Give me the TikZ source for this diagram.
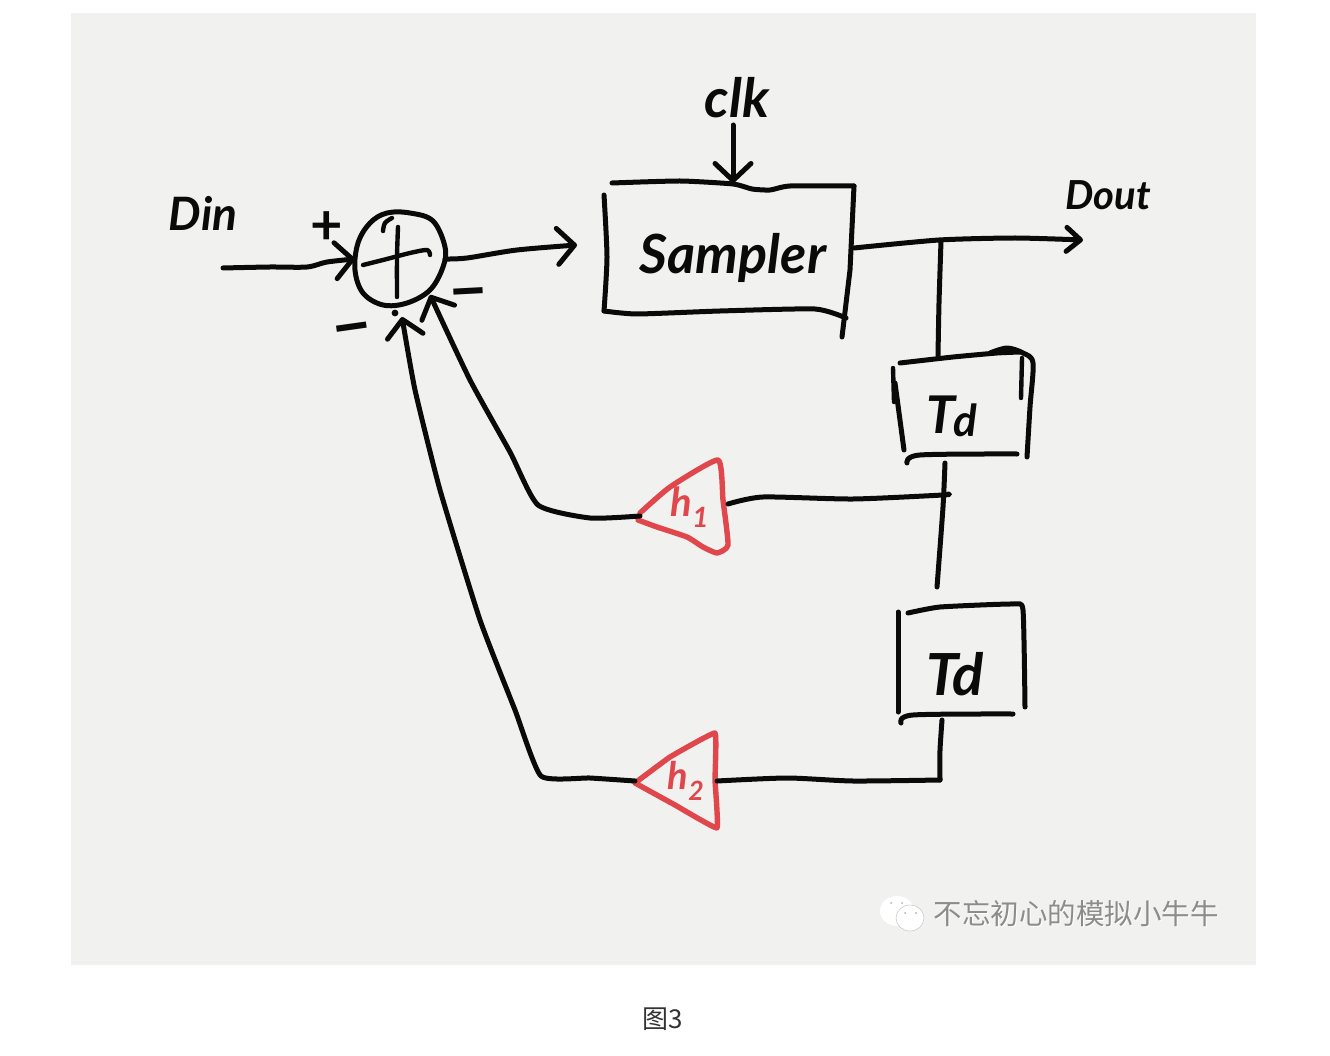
\documentclass[tikz,border=0pt]{standalone}
\usepackage{fontspec}
\setmainfont{Lato}
\newfontfamily\cjkfont{Noto Sans CJK SC}
\usetikzlibrary{arrows.meta}
\definecolor{paper}{HTML}{F1F1F0}
\definecolor{ink}{HTML}{0A0A0A}
\definecolor{redink}{HTML}{E0474C}
\tikzset{
  pen/.style={draw=ink,line width=5pt,line cap=round,line join=round},
  thinpen/.style={pen,line width=4.4pt},
  redpen/.style={draw=redink,line width=5.4pt,line cap=round,line join=round},
  barb/.style={-{Straight Barb[length=17pt,width=36pt,line cap=round,line join=round]}},
  smallbarb/.style={-{Straight Barb[length=14pt,width=24pt,line cap=round,line join=round]}},
  hand/.style={inner sep=0pt,outer sep=0pt,text=ink,font=\fontsize{#1}{#1}\selectfont\itshape\bfseries},
  slot/.style={inner sep=0pt,outer sep=0pt,text=ink},
}
\begin{document}
\begin{tikzpicture}[x=1pt,y=-1pt]
\useasboundingbox (0,0) rectangle (1330,1056);
\fill[white] (0,0) rectangle (1330,1056);
\fill[paper] (71,13) rectangle (1256,965);

% nodes
\node[slot,minimum size=90pt,circle] (sum) at (400,259) {};
\node[slot,minimum width=250pt,minimum height=130pt,font=\fontsize{54}{54}\selectfont\itshape\bfseries] (sampler) at (729,248) {\raisebox{-26pt}[0pt][0pt]{\kern8pt Sampler}};
\node[slot,minimum width=135pt,minimum height=105pt,font=\fontsize{52}{52}\selectfont\itshape\bfseries] (tdone) at (962,408) {\raisebox{-25pt}[0pt][0pt]{\kern-20ptT\kern-2pt\raisebox{-3pt}{\fontsize{44}{44}\selectfont d}}};
\node[slot,minimum width=127pt,minimum height=118pt,font=\fontsize{58}{58}\selectfont\itshape\bfseries] (tdtwo) at (962,664) {\raisebox{-31pt}[0pt][0pt]{\kern-14pt Td}};
\node[slot,minimum width=88pt,minimum height=95pt] (hone) at (684,507) {\kern12pt{\color{redink}\fontsize{40}{40}\selectfont\itshape\bfseries h\textsubscript{1}}};
\node[slot,minimum width=82pt,minimum height=95pt] (htwo) at (676,781) {\kern20pt{\color{redink}\fontsize{38}{38}\selectfont\itshape\bfseries h\textsubscript{2}}};

% text labels
\node[hand=46] (din) at (203,213) {Din};
\node[hand=54] (clk) at (737,98) {clk};
\node[hand=40] (dout) at (1108,195) {Dout};
\node[inner sep=0pt,text=ink,font=\fontsize{56}{56}\selectfont\bfseries] (plus) at (327,228) {+};
\node[inner sep=0pt,text=ink,font=\fontsize{68}{68}\selectfont\bfseries,rotate=8] (minusa) at (353,337) {−};
\node[inner sep=0pt,text=ink,font=\fontsize{66}{66}\selectfont\bfseries,rotate=3] (minusb) at (469,301) {−};

% free ends and bends
\coordinate (dinstart) at (223,268);
\coordinate (outstop) at (577,245);
\coordinate (clktop) at (733,125);
\coordinate (tap) at (941,241);
\coordinate (doutend) at (1083,240);
\coordinate (tapb) at (943,495);
\coordinate (tdend) at (937,587);
\coordinate (bendone) at (538,505);
\coordinate (bendtwo) at (541,776);
\coordinate (sumtipa) at (430,295);
\coordinate (sumtipb) at (402,317);
\coordinate (cornertd) at (940,780);

% summing circle
\draw[pen] plot[smooth cycle,tension=.6] coordinates {(387,213) (410,213) (433,221) (445,247) (443,267) (430,290) (407,303) (383,305) (363,293) (355,270) (358,243) (370,223)};
\draw[thinpen] plot[smooth,tension=.6] coordinates {(383,231) (385,223) (392,218)};
\draw[thinpen] plot[smooth,tension=.5] coordinates {(363,265) (383,260) (410,253) (427,250) (430,255)};
\draw[thinpen] plot[smooth,tension=.5] coordinates {(398,227) (397,257) (397,297)};
\fill[ink] (395,313) circle (3.4pt);

% sampler box
\draw[pen] plot[smooth,tension=.35] coordinates {(612,183) (680,181) (733,184) (752,189) (770,190) (790,186) (854,186)};
\draw[pen] (854,186) -- (850,270) -- (842,337);
\draw[pen] plot[smooth,tension=.4] coordinates {(604,195) (607,257) (604,311)};
\draw[pen] plot[smooth,tension=.35] coordinates {(604,311) (637,314) (720,311) (815,309) (846,318)};

% first delay box
\draw[pen] plot[smooth,tension=.3] coordinates {(900,363) (953,357) (997,353) (1020,352)};
\draw[pen] plot[smooth,tension=.5] coordinates {(990,353) (1007,348) (1023,353) (1033,363) (1030,407) (1027,457)};
\draw[thinpen] (1022,358) -- (1021,398);
\draw[thinpen] (893,368) -- (894,402);
\draw[pen] (895,383) -- (904,450);
\draw[pen] plot[smooth,tension=.5] coordinates {(907,463) (920,455) (1017,454)};

% second delay box
\draw[pen] (898,612) -- (898,712);
\draw[pen] plot[smooth,tension=.3] coordinates {(908,613) (940,607) (1013,604) (1023,610) (1025,707)};
\draw[pen] plot[smooth,tension=.5] coordinates {(901,723) (913,715) (1013,714)};

% red gain triangles
\draw[redpen] plot[smooth,tension=.3] coordinates {(640,513) (670,487) (718,460) (723,500) (728,545) (717,553) (703,547) (687,537) (657,527) (638,520)};
\draw[redpen] plot[smooth,tension=.15] coordinates {(635,783) (670,757) (715,733) (715,780) (717,828) (675,805) (635,783)};

% connectors
\draw[pen,barb] plot[smooth,tension=.5] coordinates {(dinstart) (270,267) (307,267) (327,262) (sum.west)};
\draw[pen,barb] plot[smooth,tension=.5] coordinates {(sum.east) (467,258) (517,250) (outstop)};
\draw[pen,barb] (clktop) -- (sampler.north -| clktop);
\draw[pen,smallbarb] plot[smooth,tension=.4] coordinates {(sampler.east) (939,240) (1015,238) (doutend)};
\draw[pen] plot[smooth,tension=.4] coordinates {(tap) (939,303) (tdone.north -| 938,0)};
\draw[pen] plot[smooth,tension=.4] coordinates {(945,463) (943,507) (tdend)};
\draw[pen] plot[smooth,tension=.4] coordinates {([yshift=3pt]hone.east) (763,497) (853,499) (tapb) (948,494)};
\draw[pen,barb] plot[smooth,tension=.35] coordinates {([yshift=-9pt]hone.west) (590,518) (bendone) (510,452) (470,380) (sumtipa)};
\draw[pen,barb] plot[smooth,tension=.3] coordinates {(htwo.west) (590,778) (bendtwo) (515,710) (480,620) (440,490) (415,390) (sumtipb)};
\draw[pen] plot[smooth,tension=.3] coordinates {(942,720) (940,750) (cornertd)};
\draw[pen] plot[smooth,tension=.4] coordinates {(cornertd) (853,781) (787,778) (htwo.east)};

% watermark
\fill[white] (897,911) circle[x radius=17pt,y radius=15pt];
\draw[white!80!black,line width=.6pt,fill=white] (910,918) circle[x radius=14pt,y radius=13pt];
\fill[gray!60] (891,903) circle (1pt) (902,903) circle (1pt) (905,913) circle (1pt) (916,913) circle (1pt);
\node[inner sep=0pt,text=white,font=\cjkfont\fontsize{28.5}{28.5}\selectfont] (markshade) at (1077,915) {不忘初心的模拟小牛牛};
\node[inner sep=0pt,text=black!45,font=\cjkfont\fontsize{28.5}{28.5}\selectfont] (mark) at (1076,914) {不忘初心的模拟小牛牛};

% caption
\node[inner sep=0pt,text=black!80,font=\cjkfont\fontsize{26}{26}\selectfont] (caption) at (663,1019) {图3};
\end{tikzpicture}
\end{document}
